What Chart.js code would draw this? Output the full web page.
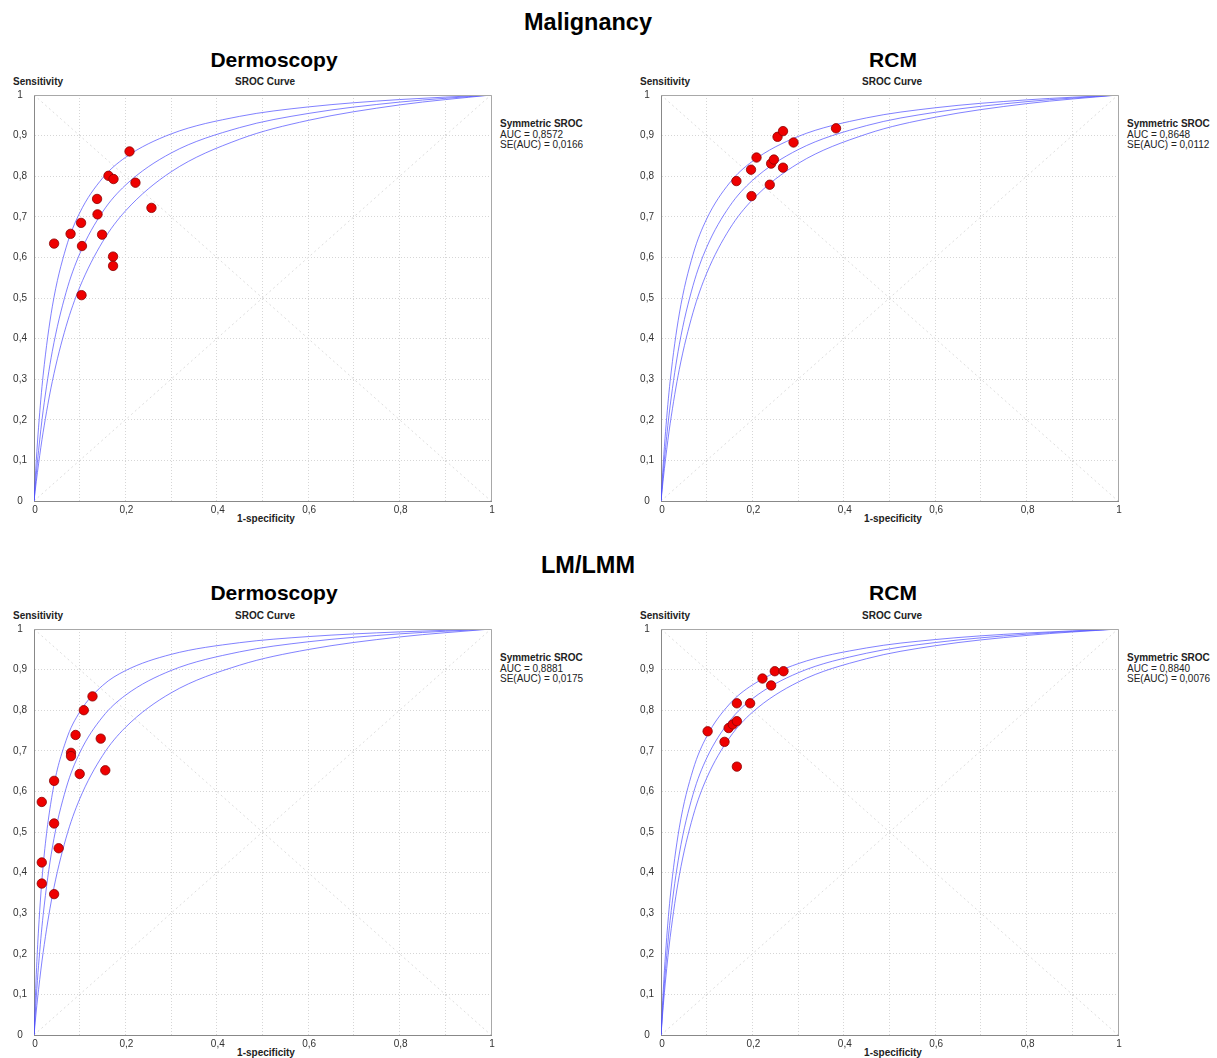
<!DOCTYPE html>
<html>
<head>
<meta charset="utf-8">
<script src="https://cdn.jsdelivr.net/npm/chart.js@4.4.1/dist/chart.umd.min.js"></script>
<style>
  body { margin: 0; background: #fff; font-family: "Liberation Sans", Arial, sans-serif; }
  #page { position: relative; width: 1217px; height: 1058px; overflow: hidden; background: #fff; }
  .t { position: absolute; white-space: nowrap; color: #000; line-height: 1; }
  .c { transform: translate(-50%, -50%); }
  .l { transform: translate(0, -50%); }
  .big { font-size: 23.5px; font-weight: bold; }
  .sub { font-size: 21px; font-weight: bold; }
  .lab { font-size: 10px; font-weight: bold; color: #222; }
  .leg { font-size: 10px; color: #222; }
  .panel { position: absolute; }
</style>
</head>
<body>
<div id="page"></div>
<script>
// x grid the SROC curves are read at (1-specificity)
const fprGrid = [0, 0.005, 0.01, 0.02, 0.04, 0.07, 0.1, 0.15, 0.2, 0.3, 0.45, 0.6, 0.8, 1];

// Malignancy - Dermoscopy
const malDermFpr  = [0.044, 0.080, 0.103, 0.105, 0.104, 0.138, 0.139, 0.149, 0.163, 0.174, 0.173, 0.173, 0.209, 0.222, 0.257];
const malDermSens = [0.634, 0.658, 0.685, 0.628, 0.507, 0.744, 0.706, 0.656, 0.801, 0.793, 0.602, 0.579, 0.861, 0.784, 0.722];
const malDermUpper = [0, 0.0995, 0.1818, 0.3099, 0.4783, 0.6235, 0.7097, 0.7952, 0.8462, 0.9041, 0.9474, 0.9706, 0.9888, 1];
const malDermMid   = [0, 0.0657, 0.1239, 0.2222, 0.3684, 0.5131, 0.6087, 0.7119, 0.7778, 0.8571, 0.9197, 0.9545, 0.9825, 1];
const malDermLower = [0, 0.0478, 0.0917, 0.1695, 0.2941, 0.4294, 0.5263, 0.6383, 0.7143, 0.8108, 0.8911, 0.9375, 0.9756, 1];

// Malignancy - RCM
const malRcmFpr  = [0.165, 0.197, 0.198, 0.209, 0.238, 0.241, 0.247, 0.255, 0.267, 0.267, 0.290, 0.383];
const malRcmSens = [0.788, 0.816, 0.751, 0.846, 0.779, 0.831, 0.841, 0.897, 0.911, 0.821, 0.883, 0.918];
const malRcmUpper = [0, 0.0934, 0.1716, 0.2950, 0.4607, 0.6068, 0.6949, 0.7834, 0.8367, 0.8978, 0.9437, 0.9685, 0.9880, 1];
const malRcmMid   = [0, 0.0701, 0.1316, 0.2344, 0.3846, 0.5303, 0.6250, 0.7258, 0.7895, 0.8654, 0.9247, 0.9574, 0.9836, 1];
const malRcmLower = [0, 0.0546, 0.1041, 0.1901, 0.3239, 0.4640, 0.5610, 0.6699, 0.7419, 0.8313, 0.9039, 0.9452, 0.9787, 1];

// LM/LMM - Dermoscopy
const lmDermFpr  = [0.017, 0.017, 0.017, 0.044, 0.044, 0.044, 0.054, 0.081, 0.081, 0.091, 0.100, 0.109, 0.128, 0.146, 0.156];
const lmDermSens = [0.574, 0.425, 0.373, 0.626, 0.521, 0.347, 0.460, 0.695, 0.687, 0.739, 0.643, 0.800, 0.834, 0.730, 0.652];
const lmDermUpper = [0, 0.1496, 0.2612, 0.4167, 0.5932, 0.7249, 0.7955, 0.8607, 0.8974, 0.9375, 0.9663, 0.9813, 0.9929, 1];
const lmDermMid   = [0, 0.0934, 0.1716, 0.2950, 0.4607, 0.6068, 0.6949, 0.7834, 0.8367, 0.8978, 0.9437, 0.9685, 0.9880, 1];
const lmDermLower = [0, 0.0591, 0.1121, 0.2033, 0.3425, 0.4848, 0.5814, 0.6881, 0.7576, 0.8427, 0.9109, 0.9494, 0.9804, 1];

// LM/LMM - RCM
const lmRcmFpr  = [0.102, 0.139, 0.148, 0.157, 0.166, 0.166, 0.166, 0.195, 0.222, 0.241, 0.249, 0.268];
const lmRcmSens = [0.748, 0.722, 0.756, 0.765, 0.773, 0.817, 0.661, 0.817, 0.878, 0.861, 0.896, 0.896];
const lmRcmUpper = [0, 0.1116, 0.2016, 0.3378, 0.5102, 0.6530, 0.7353, 0.8152, 0.8621, 0.9146, 0.9534, 0.9740, 0.9901, 1];
const lmRcmMid   = [0, 0.0884, 0.1631, 0.2826, 0.4457, 0.5923, 0.6820, 0.7730, 0.8283, 0.8921, 0.9404, 0.9666, 0.9872, 1];
const lmRcmLower = [0, 0.0723, 0.1354, 0.2403, 0.3924, 0.5385, 0.6327, 0.7323, 0.7949, 0.8692, 0.9269, 0.9588, 0.9841, 1];

const aucLabels = ['AUC = 0,8572', 'AUC = 0,8648', 'AUC = 0,8881', 'AUC = 0,8840'];
const seLabels  = ['SE(AUC) = 0,0166', 'SE(AUC) = 0,0112', 'SE(AUC) = 0,0175', 'SE(AUC) = 0,0076'];

// reference diagonals
const diagDown = [{x: 0, y: 1}, {x: 1, y: 0}];
const diagUp   = [{x: 0, y: 0}, {x: 1, y: 1}];

Chart.defaults.font.family = '"Liberation Sans", Arial, sans-serif';

const page = document.getElementById('page');

function addText(txt, x, y, cls) { // small helper for absolute text
  const d = document.createElement('div');
  d.className = 't ' + cls;
  d.style.left = x + 'px';
  d.style.top = y + 'px';
  d.textContent = txt;
  page.appendChild(d);
}

function fmt(v) {
  const r = Math.round(v * 10) / 10;
  if (r === 0) return '0';
  if (r === 1) return '1';
  return r.toFixed(1).replace('.', ',');
}

const frame = { // top and right side of the plot box
  id: 'frame',
  afterDraw(chart) {
    const a = chart.chartArea, ctx = chart.ctx;
    ctx.save();
    ctx.strokeStyle = '#a8a8a8';
    ctx.lineWidth = 1;
    ctx.beginPath();
    ctx.moveTo(a.left, a.top + 0.5);
    ctx.lineTo(a.right + 0.5, a.top + 0.5);
    ctx.lineTo(a.right + 0.5, a.bottom);
    ctx.stroke();
    ctx.restore();
  }
};

const panels = [
  {dx: 0,   dy: 0,   fpr: malDermFpr, sens: malDermSens, curves: [malDermUpper, malDermMid, malDermLower]},
  {dx: 627, dy: 0,   fpr: malRcmFpr,  sens: malRcmSens,  curves: [malRcmUpper, malRcmMid, malRcmLower]},
  {dx: 0,   dy: 534, fpr: lmDermFpr,  sens: lmDermSens,  curves: [lmDermUpper, lmDermMid, lmDermLower]},
  {dx: 627, dy: 534, fpr: lmRcmFpr,   sens: lmRcmSens,   curves: [lmRcmUpper, lmRcmMid, lmRcmLower]}
];

addText('Malignancy', 588, 23, 'big c');
addText('Dermoscopy', 274, 59, 'sub c');
addText('RCM', 893, 59, 'sub c');
addText('LM/LMM', 588, 566, 'big c');
addText('Dermoscopy', 274, 592, 'sub c');
addText('RCM', 893, 592, 'sub c');

panels.forEach((p, i) => {
  addText('Sensitivity', p.dx + 13, p.dy + 82, 'lab l');
  addText('SROC Curve', p.dx + 265, p.dy + 82, 'lab c');
  addText('1-specificity', p.dx + 266, p.dy + 519, 'lab c');
  addText('Symmetric SROC', p.dx + 500, p.dy + 124, 'lab l');
  addText(aucLabels[i], p.dx + 500, p.dy + 134.5, 'leg l');
  addText(seLabels[i], p.dx + 500, p.dy + 145, 'leg l');

  const box = document.createElement('div');
  box.className = 'panel';
  box.style.left = p.dx + 'px';
  box.style.top = (p.dy + 82) + 'px';
  const cv = document.createElement('canvas');
  cv.width = 600;
  cv.height = 449;
  box.appendChild(cv);
  page.appendChild(box);

  const curveSets = p.curves.map(c => ({
    type: 'line',
    data: c.map((v, k) => ({x: fprGrid[k], y: v})),
    borderColor: 'rgba(80, 80, 255, 0.72)',
    borderWidth: 1,
    pointRadius: 0,
    fill: false,
    cubicInterpolationMode: 'monotone'
  }));

  new Chart(cv.getContext('2d'), {
    type: 'scatter',
    data: {
      datasets: [
        {
          data: p.fpr.map((v, k) => ({x: v, y: p.sens[k]})),
          backgroundColor: '#ee0000',
          borderColor: '#8a0000',
          borderWidth: 0.8,
          pointRadius: 4.7
        },
        ...curveSets,
        {type: 'line', data: diagDown, borderColor: '#dcdcdc', borderWidth: 1, borderDash: [2, 3], pointRadius: 0},
        {type: 'line', data: diagUp, borderColor: '#dcdcdc', borderWidth: 1, borderDash: [2, 3], pointRadius: 0}
      ]
    },
    options: {
      responsive: false,
      animation: false,
      layout: {padding: {left: 0, top: 2, right: 109, bottom: 0}},
      plugins: {legend: {display: false}, tooltip: {enabled: false}},
      scales: {
        x: {
          type: 'linear', min: 0, max: 1,
          afterFit: s => { s.height = 30; },
          grid: {color: '#d6d6d6', drawTicks: false},
          border: {color: '#888', dash: [1, 2]},
          ticks: {
            stepSize: 0.1, padding: 3, color: '#333', autoSkip: false, maxRotation: 0,
            labelOffset: 1,
            font: {size: 10},
            callback: v => (Math.round(v * 10) % 2 === 0 ? fmt(v) : '')
          }
        },
        y: {
          type: 'linear', min: 0, max: 1,
          afterFit: s => { s.width = 34; },
          grid: {color: '#d6d6d6', drawTicks: false},
          border: {color: '#888', dash: [1, 2]},
          ticks: {stepSize: 0.1, padding: 7, color: '#333', crossAlign: 'center', font: {size: 10}, callback: v => fmt(v)}
        }
      }
    },
    plugins: [frame]
  });
});
</script>
</body>
</html>
